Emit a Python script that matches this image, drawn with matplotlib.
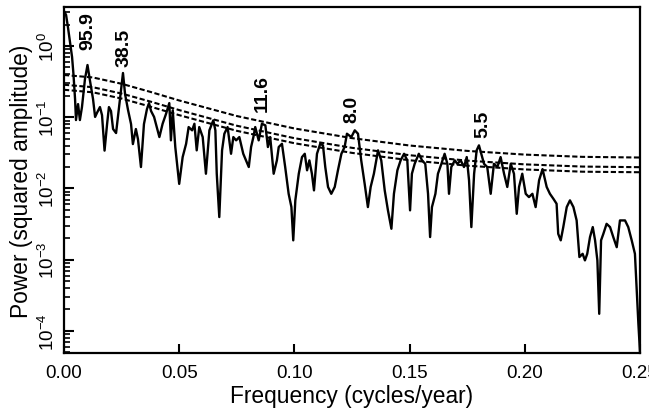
import matplotlib
matplotlib.use('Agg')
import matplotlib.pyplot as plt
from matplotlib.ticker import LogLocator, FormatStrFormatter, NullFormatter

# Spectre de puissance (frequence en cycles/an)
freq = [
    0.0000, 0.0009, 0.0017, 0.0026, 0.0035, 0.0041, 0.0048, 0.0052, 0.0061, 0.0069,
    0.0078, 0.0091, 0.0102, 0.0113, 0.0126, 0.0135, 0.0143, 0.0156, 0.0165, 0.0176,
    0.0187, 0.0195, 0.0204, 0.0213, 0.0226, 0.0234, 0.0243, 0.0256, 0.0265, 0.0278,
    0.0291, 0.0299, 0.0312, 0.0321, 0.0334, 0.0347, 0.0360, 0.0369, 0.0378, 0.0391,
    0.0414, 0.0428, 0.0443, 0.0457, 0.0464, 0.0472, 0.0483, 0.0500, 0.0515, 0.0530,
    0.0541, 0.0556, 0.0566, 0.0576, 0.0587, 0.0602, 0.0616, 0.0631, 0.0648, 0.0657,
    0.0663, 0.0674, 0.0686, 0.0696, 0.0710, 0.0725, 0.0735, 0.0747, 0.0761, 0.0778,
    0.0802, 0.0812, 0.0822,
    0.0830, 0.0845, 0.0859, 0.0874, 0.0885, 0.0895, 0.0910, 0.0924, 0.0932, 0.0946,
    0.0960, 0.0975, 0.0987, 0.0995, 0.1004, 0.1019, 0.1033, 0.1045, 0.1055, 0.1065,
    0.1076, 0.1085, 0.1098, 0.1112, 0.1124, 0.1134, 0.1146, 0.1160, 0.1175, 0.1189,
    0.1204, 0.1218, 0.1228,
    0.1247, 0.1262, 0.1276, 0.1290, 0.1305, 0.1319, 0.1331, 0.1345, 0.1363, 0.1377,
    0.1392, 0.1406, 0.1421, 0.1432, 0.1447, 0.1461, 0.1476, 0.1490, 0.1502, 0.1510,
    0.1522, 0.1540, 0.1554, 0.1568, 0.1580, 0.1589, 0.1597, 0.1612, 0.1623, 0.1638,
    0.1652,
    0.1664, 0.1671, 0.1681, 0.1696, 0.1707, 0.1722, 0.1736, 0.1748, 0.1758, 0.1768,
    0.1780, 0.1791, 0.1801, 0.1811, 0.1823, 0.1837, 0.1852, 0.1866, 0.1881, 0.1895,
    0.1910, 0.1924, 0.1939, 0.1953, 0.1965, 0.1975, 0.1989, 0.2004, 0.2018, 0.2033,
    0.2047, 0.2062,
    0.2077, 0.2095, 0.2109, 0.2124, 0.2138, 0.2145, 0.2156, 0.2167, 0.2182, 0.2196,
    0.2211, 0.2225, 0.2237, 0.2251, 0.2261, 0.2271, 0.2283, 0.2295, 0.2305, 0.2315,
    0.2323, 0.2331, 0.2341, 0.2355, 0.2370, 0.2384, 0.2399, 0.2413, 0.2435, 0.2449,
    0.2464, 0.2478, 0.2486, 0.2493, 0.2500,
]
power = [
    3.10, 2.73, 1.85, 1.14, 0.701, 0.404, 0.180, 0.0913, 0.153, 0.0913,
    0.139, 0.344, 0.541, 0.322, 0.180, 0.101, 0.115, 0.139, 0.107, 0.034,
    0.0802, 0.139, 0.122, 0.0683, 0.060, 0.101, 0.180, 0.418, 0.212, 0.126,
    0.0802, 0.042, 0.0683, 0.0494, 0.020, 0.0802, 0.130, 0.158, 0.122, 0.101,
    0.0527, 0.0810, 0.112, 0.158, 0.0474, 0.125, 0.0382, 0.0116, 0.0276, 0.0424,
    0.0728, 0.0655, 0.0810, 0.0343, 0.0728, 0.0527, 0.0161, 0.0655, 0.0905, 0.0655,
    0.0161, 0.00397, 0.0343, 0.0587, 0.0728, 0.0307, 0.0527, 0.0474, 0.0527, 0.0307,
    0.0200, 0.0382, 0.0527,
    0.0728, 0.0474, 0.0810, 0.0769, 0.0382, 0.0527, 0.0161, 0.0248, 0.0382, 0.0424,
    0.0200, 0.00842, 0.00548, 0.00187, 0.00681, 0.0161, 0.0276, 0.0307, 0.0180, 0.0248,
    0.0161, 0.0094, 0.0307, 0.0424, 0.0403, 0.0200, 0.0105, 0.00842, 0.0105, 0.0180,
    0.0307, 0.0382, 0.0587,
    0.0527, 0.0655, 0.0587, 0.0248, 0.0116, 0.00548, 0.0105, 0.0161, 0.0343, 0.0248,
    0.0094, 0.00493, 0.00272, 0.00842, 0.0180, 0.0248, 0.0307, 0.0248, 0.00493, 0.0161,
    0.0222, 0.0307, 0.0248, 0.0222, 0.00842, 0.00208, 0.00548, 0.00842, 0.0161, 0.0222,
    0.0307,
    0.0222, 0.00842, 0.0200, 0.0248, 0.0222, 0.0248, 0.0200, 0.0276, 0.0130, 0.00287,
    0.0161, 0.0343, 0.0403, 0.0307, 0.0222, 0.0200, 0.00842, 0.0222, 0.0200, 0.0276,
    0.0161, 0.0105, 0.0222, 0.0161, 0.00441, 0.0105, 0.0161, 0.00842, 0.00757, 0.00842,
    0.00548, 0.0130,
    0.0187, 0.0105, 0.00842, 0.00717, 0.00610, 0.00231, 0.00187, 0.00287, 0.00548, 0.00681,
    0.00548, 0.00356, 0.00109, 0.00121, 0.000978, 0.00121, 0.00208, 0.00287, 0.00187, 0.000978,
    0.000174, 0.00187, 0.00231, 0.00319, 0.00287, 0.00208, 0.00150, 0.00356, 0.00356, 0.00287,
    0.00187, 0.00121, 0.000371, 0.000126, 0.0000504,
]

ci_freq = [0.0, 0.0125, 0.025, 0.0375, 0.05, 0.075, 0.1, 0.125, 0.15, 0.175, 0.2, 0.225, 0.25]
ci_top = [0.392, 0.362, 0.295, 0.227, 0.172, 0.104, 0.0696, 0.0509, 0.0401, 0.0337, 0.0299, 0.0278, 0.0272]
ci_mid = [0.286, 0.264, 0.215, 0.166, 0.126, 0.076, 0.0508, 0.0372, 0.0293, 0.0246, 0.0218, 0.0203, 0.0199]
ci_low = [0.243, 0.224, 0.183, 0.141, 0.107, 0.0645, 0.0432, 0.0316, 0.0249, 0.0209, 0.0185, 0.0172, 0.0169]

# Pics annotes (periode en annees)
peak_periods = [95.9, 38.5, 11.6, 8.0, 5.5]
peak_labels = ['95.9', '38.5', '11.6', '8.0', '5.5']
label_y = [0.907, 0.524, 0.122, 0.0856, 0.0527]

plt.rcParams['font.family'] = ['Liberation Sans', 'DejaVu Sans']
plt.rcParams['mathtext.fontset'] = 'custom'
plt.rcParams['mathtext.rm'] = 'Liberation Sans'

fig = plt.figure(figsize=(6.49, 4.10), dpi=100)
ax = fig.add_axes([64 / 649, 1 - 354 / 410, 576 / 649, 346 / 410])

ax.plot(freq, power, color='black', lw=1.7)
for courbe in (ci_top, ci_mid, ci_low):
    ax.plot(ci_freq, courbe, color='black', lw=1.5, linestyle=(0, (2.5, 1.2)))

for periode, texte, y in zip(peak_periods, peak_labels, label_y):
    ax.text(1 / periode, y, texte, rotation=90, ha='center', va='bottom',
            fontsize=14, fontweight='bold')

ax.set_yscale('log')
ax.set_xlim(0, 0.25)
ax.set_ylim(4.9e-5, 3.53)

ax.set_xticks([0.0, 0.05, 0.10, 0.15, 0.20, 0.25])
ax.xaxis.set_major_formatter(FormatStrFormatter('%.2f'))
ax.yaxis.set_major_locator(LogLocator(base=10, numticks=10))
ax.yaxis.set_minor_locator(LogLocator(base=10, subs=range(2, 10), numticks=20))
ax.yaxis.set_minor_formatter(NullFormatter())

ax.tick_params(axis='both', which='both', direction='in', labelsize=13.5)
ax.tick_params(axis='y', which='major', length=7, width=1.5, pad=4, labelrotation=90)
ax.tick_params(axis='y', which='minor', length=4.5, width=1.2)
ax.tick_params(axis='x', which='major', length=6.5, width=1.5, pad=8)
plt.setp(ax.get_yticklabels(), va='center')
for s in ax.spines.values():
    s.set_linewidth(1.6)

ax.set_xlabel('Frequency (cycles/year)', fontsize=16.4, labelpad=2)
ax.set_ylabel('Power (squared amplitude)', fontsize=16.4, labelpad=4)

fig.savefig('out.png', dpi=100)
